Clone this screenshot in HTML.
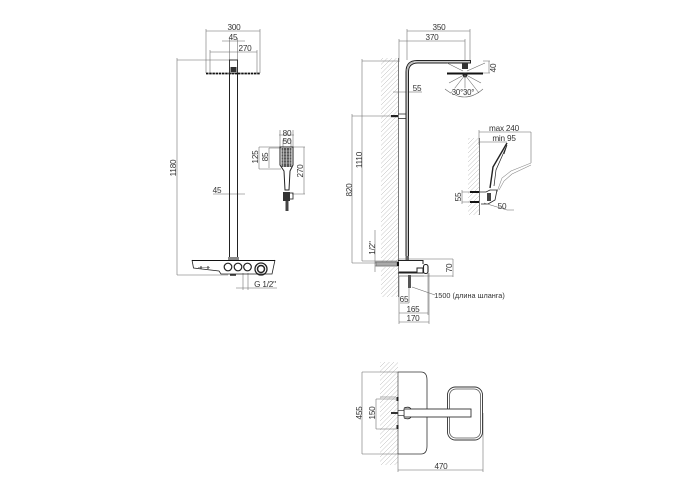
<!DOCTYPE html>
<html><head><meta charset="utf-8"><style>
html,body{margin:0;padding:0;background:#fff;width:700px;height:500px;overflow:hidden}
svg{display:block}
text{font-family:"Liberation Sans",sans-serif;font-size:8.2px;letter-spacing:-.2px;fill:#333;text-anchor:middle}
.d{stroke:#666;stroke-width:.55;fill:none}
.k{stroke:#222;stroke-width:.9;fill:none}
.b{stroke:#111;stroke-width:1.8;fill:none}
</style></head><body>
<svg width="700" height="500" viewBox="0 0 700 500" xmlns="http://www.w3.org/2000/svg">
<defs><pattern id="ha" width="4.5" height="4.5" patternUnits="userSpaceOnUse"><path d="M-1 5.500L5.500 -1M-1 1L1 -1M3.500 5.500L5.500 3.500" stroke="#b5b5b5" stroke-width=".5" fill="none"/></pattern></defs>

<!-- LEFT VIEW dims -->
<path class="d" d="M206 29V73M260 29V73M206 31H260M222 41H245M229.5 38V60M237.5 38V60M210 52H257M210 50V73M257 50V73M177 60H233M177 58V275M177 275H228M213 194H245M243 273V290M248 273V290M236 288H277"/>
<text x="234" y="30">300</text><text x="233" y="40">45</text><text x="245" y="51">270</text>
<text x="217" y="193">45</text><text x="265" y="287">G 1/2"</text>
<text transform="translate(176,168) rotate(-90)">1180</text>
<!-- head / pipe -->
<path class="b" d="M206 73.500H260" stroke-dasharray="2.500 .7"/>
<rect class="k" x="229.500" y="60" width="8" height="13"/>
<rect x="230.500" y="67" width="6" height="5" fill="#333"/>
<path class="k" d="M229.500 73V258M237.500 73V258" style="stroke-width:1"/>
<rect x="228" y="257" width="11" height="3" fill="#888"/>
<!-- base -->
<path class="k" d="M192 260L193.500 268 219 271 221 274H272L275 260" style="stroke-width:.8"/>
<path class="b" d="M192 260.500H275" style="stroke-width:1.100"/>
<circle class="k" cx="228" cy="267" r="3.800" style="stroke-width:1.200"/><circle class="k" cx="238" cy="267" r="3.800" style="stroke-width:1.200"/><circle class="k" cx="247.500" cy="267" r="3.800" style="stroke-width:1.200"/>
<circle class="k" cx="261" cy="269" r="6" style="stroke-width:1.300"/><circle class="k" cx="261" cy="269" r="3.500" style="stroke-width:1.500"/>
<path class="d" d="M198 267.500H210"/><path class="k" d="M201 266v3M208 266v3"/>
<rect x="230" y="274" width="6" height="1.800" fill="#333"/>

<!-- HAND SHOWER -->
<path class="d" d="M280 147V130M293 147V130M279 135H294M283 147V140H291V147M259 147H281M259 147V169M259 169H281M269 148H281M269 148V168M304 147V194M293 147H305M292 194H305"/>
<text x="287" y="136">80</text><text x="287" y="144">50</text>
<text transform="translate(258,157) rotate(-90)">125</text>
<text transform="translate(268,157) rotate(-90)">85</text>
<text transform="translate(303,171) rotate(-90)">270</text>
<path class="k" d="M280 147H293V165L290 171 289 190H285L284 171 280 165Z" style="stroke-width:1"/>
<rect x="281.500" y="148" width="10" height="19" fill="#555"/>
<path d="M283.500 148V167M286.500 148V167M289.500 148V167M281.500 151H291.500M281.500 154H291.500M281.500 157H291.500M281.500 160H291.500M281.500 163H291.500" stroke="#ddd" stroke-width=".6"/>
<rect x="283" y="192" width="7" height="9" fill="#333"/><rect x="289" y="193" width="4" height="6" fill="none" stroke="#333" stroke-width=".9"/>
<rect x="285.500" y="201" width="3" height="10" fill="#444"/>

<!-- RIGHT VIEW wall -->
<rect x="381" y="58" width="17" height="204" fill="url(#ha)"/>
<rect x="381" y="267" width="17" height="30" fill="url(#ha)"/>
<path class="k" d="M398.500 58V297" style="stroke:#444;stroke-width:.7"/>
<!-- dims -->
<path class="d" d="M407 29V60M470 29V60M407 31H470M399 39V60M465 39V60M399 41H465M362 61H400M362 59V261M352 116H398M352 114V263M393 92H408M352 263H398M362 261H398M375 230V272M375 262H398M375 266H398M398 259H453M453 259V277M424 276H453M399 276V324M428 273V315M429 273V324M399 313H428M399 322H429M400 303H409M409 288V303"/>
<path class="d" d="M408 92H422"/>
<text x="439" y="30">350</text><text x="432" y="40">370</text><text x="417" y="91">55</text>
<text transform="translate(362,160) rotate(-90)">1110</text>
<text transform="translate(352,190) rotate(-90)">820</text>
<text transform="translate(375,248) rotate(-90)">1/2"</text>
<text transform="translate(452,268) rotate(-90)">70</text>
<text transform="translate(496,68) rotate(-90)">40</text>
<text x="404" y="302">65</text><text x="413" y="312">165</text><text x="413" y="321">170</text>
<text x="469.500" y="298" style="font-size:7.300px;letter-spacing:0">1500 (длина шланга)</text>
<path class="d" d="M412 287L435 295"/>
<!-- pipe -->
<path class="k" d="M406 256V72Q406 60.500 417 60.500H470.500V63H418Q408.500 63 408.500 72V256" style="stroke-width:1"/>
<path d="M407.200 256V72Q407.200 61.800 417 61.800H470" stroke="#bbb" stroke-width="1.200" fill="none"/>
<rect x="391" y="115" width="7" height="2.200" fill="#222"/>
<path class="k" d="M398 114H406M398 118.500H406" style="stroke-width:.7"/>
<!-- head -->
<rect x="462" y="63" width="6" height="6" fill="#333"/>
<path class="b" d="M447 73.500H483" style="stroke-width:2"/>
<circle cx="465" cy="75" r="2.500" fill="#222"/>
<path class="d" d="M447 63L463 71M485 63L467 71M449 83L462 76M481 83L468 76M465 75L451 93M465 75L479 93M465 75V96"/>
<path class="d" d="M445 89Q465 105 483 89"/>
<path class="d" d="M489 61V73M483 61H490M483 73H490"/>
<text x="463" y="95" style="font-size:7.800px;paint-order:stroke;stroke:#fff;stroke-width:1.500px">30°30°</text>
<!-- base right -->
<rect x="376" y="262" width="21" height="4" fill="#aaa" stroke="#555" stroke-width=".5"/>
<rect x="397" y="262" width="2" height="4" fill="#111"/>
<rect x="405.500" y="256" width="3.500" height="4" fill="#666"/>
<path class="k" d="M398 260.500H423V264M399 272H417V268H423V273H398" style="stroke-width:1"/>
<path class="k" d="M399 276H424" style="stroke-width:.6"/>
<rect x="423.500" y="264.500" width="4.500" height="9" rx="2" fill="#fff" stroke="#222" stroke-width="1.100"/>
<rect x="408" y="275" width="3" height="13" fill="#555"/>

<!-- SIDE DETAIL -->
<rect x="468" y="138" width="11" height="77" fill="url(#ha)"/>
<path class="k" d="M479.500 138V215" style="stroke:#444;stroke-width:.7"/>
<path class="d" d="M479 130V145M479 132H531M531 132V163M479 142H507"/>
<text x="504" y="131">max 240</text><text x="504" y="141">min 95</text>
<path class="d" d="M531 163L511 171 502 178 497 192M531 165L512 174 504 181 499 190" style="stroke:#888"/>
<path class="k" d="M507 143L493 167 490 188" style="stroke-width:1.400"/>
<path class="k" d="M507 145L496 170 494 186M507 145L504 154" style="stroke-width:.7"/>
<path class="k" d="M479 192H486L490 190H497L495 200 488 204 481 204" style="stroke-width:.8"/>
<rect x="470" y="191" width="9" height="2" fill="#111"/><rect x="470" y="201" width="9" height="2" fill="#111"/>
<rect x="487" y="193" width="4" height="8" fill="#444"/>
<path class="d" d="M462 192H470M462 202H470M462 190V204M484 203L507 210H514"/>
<text transform="translate(461,197) rotate(-90)">55</text>
<text x="502" y="209">50</text>

<!-- TOP VIEW -->
<rect x="380" y="362" width="18" height="103" fill="url(#ha)"/>
<path class="k" d="M398 372V454" style="stroke:#444;stroke-width:.7"/>
<path d="M398 372H421Q427 372 427 380V446Q427 454 421 454H398" fill="none" stroke="#333" stroke-width=".8"/>
<rect x="396.500" y="397" width="2" height="4" fill="#222"/><rect x="396.500" y="425" width="2" height="4" fill="#222"/>
<path class="d" d="M362 372H398M362 454H398M362 372V454M376 399V429M376 399H397M376 429H397M380 397H396M380 429H396M398 454V472M483 413V472M398 470H483"/>
<text transform="translate(362,413) rotate(-90)">455</text>
<text transform="translate(375,413) rotate(-90)">150</text>
<text x="441" y="469">470</text>
<rect x="447.500" y="387" width="35" height="53" rx="8" fill="#fff" stroke="#333" stroke-width=".9"/>
<rect x="449.500" y="389" width="31" height="49" rx="6.500" fill="none" stroke="#555" stroke-width=".8"/>
<rect x="404" y="409" width="67" height="8" fill="#fff" stroke="#333" stroke-width=".9"/>
<path class="k" d="M404 408Q409 406 411 409M404 418Q409 420 411 417" style="stroke-width:.8"/>
<rect x="391" y="412" width="7" height="2" fill="#333"/>
<rect x="398" y="410.500" width="6" height="5" fill="#fff" stroke="#333" stroke-width=".7"/>
</svg>
</body></html>
